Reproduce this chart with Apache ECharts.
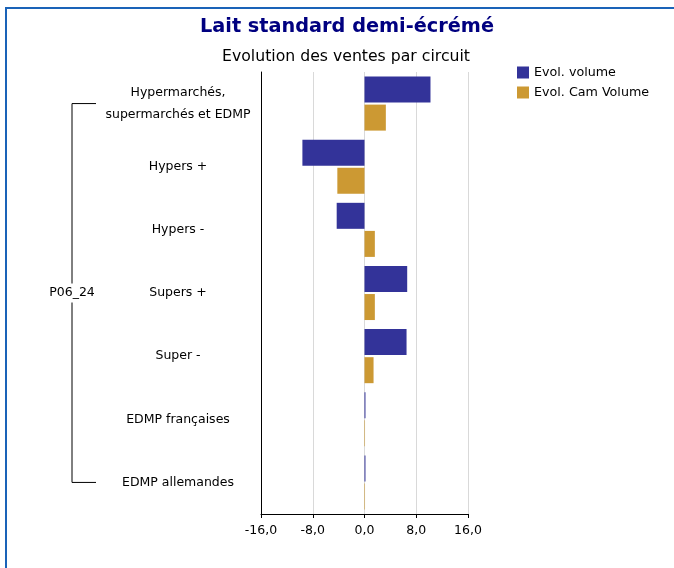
<!DOCTYPE html>
<html>
<head>
<meta charset="utf-8">
<script src="https://cdn.jsdelivr.net/npm/echarts@6/dist/echarts.min.js"></script>
<style>
html,body{margin:0;padding:0;background:#fff;}
#chart{width:674px;height:568px;}
</style>
</head>
<body>
<div id="chart"></div>
<script>
const categories = ["Hypermarchés,\nsupermarchés et EDMP", "Hypers +", "Hypers -", "Supers +", "Super -", "EDMP françaises", "EDMP allemandes"];
const evolVolume = [10.2, -9.6, -4.3, 6.6, 6.5, 0.15, 0.15];
const evolCamVolume = [3.3, -4.2, 1.6, 1.6, 1.4, 0.08, 0.08];
const seriesNames = ["Evol. volume", "Evol. Cam Volume"];
const groupLabel = "P06_24";
const titleText = "Lait standard demi-écrémé";
const subtitleText = "Evolution des ventes par circuit";

const FONT = "'DejaVu Sans', Tahoma, sans-serif";
const chart = echarts.init(document.getElementById('chart'));
chart.setOption({
  animation: false,
  textStyle: { fontFamily: FONT },
  title: [
    { text: titleText, left: 342, textAlign: 'center', top: 12,
      textStyle: { fontFamily: FONT, fontSize: 19.3, fontWeight: 'bold', color: '#000080' } },
    { text: subtitleText, left: 341, textAlign: 'center', top: 44,
      textStyle: { fontFamily: FONT, fontSize: 15.7, fontWeight: 'normal', color: '#000' } }
  ],
  legend: {
    orient: 'vertical', left: 517, top: 66, padding: 0,
    itemWidth: 12, itemHeight: 12, itemGap: 7,
    icon: 'rect',
    textStyle: { fontFamily: FONT, fontSize: 12.7, color: '#000' },
    data: seriesNames
  },
  grid: { left: 261, right: 206, top: 72, bottom: 54, containLabel: false },
  xAxis: {
    type: 'value', min: -16, max: 16, interval: 8,
    axisLine: { show: true, lineStyle: { color: '#000', width: 1 } },
    axisTick: { show: true, length: 4, lineStyle: { color: '#000' } },
    axisLabel: { fontFamily: FONT, fontSize: 12.5, color: '#000', margin: 10,
      formatter: v => v.toFixed(1).replace('.', ',') },
    splitLine: { show: true, lineStyle: { color: '#d9d9d9', width: 1 } }
  },
  yAxis: {
    type: 'category', inverse: true, data: categories,
    axisLine: { show: true, onZero: false, lineStyle: { color: '#000', width: 1 } },
    axisTick: { show: false },
    axisLabel: { fontFamily: FONT, fontSize: 12.5, color: '#000', align: 'center', margin: 83, lineHeight: 22 },
    splitLine: { show: false }
  },
  series: [
    { name: seriesNames[0], type: 'bar', data: evolVolume, barWidth: 26, barGap: '8%',
      itemStyle: { color: '#333399' } },
    { name: seriesNames[1], type: 'bar', data: evolCamVolume, barWidth: 26, barGap: '8%',
      itemStyle: { color: '#CC9933' } }
  ]
});

// bracket for the group label, positioned from the category scale
const yTop = chart.convertToPixel({ yAxisIndex: 0 }, categories[0]);
const yBot = chart.convertToPixel({ yAxisIndex: 0 }, categories[categories.length - 1]);
const bx = 72, bx2 = 96;
chart.setOption({
  graphic: [
    { type: 'polyline', shape: { points: [[bx2, yTop], [bx, yTop], [bx, yBot], [bx2, yBot]] },
      style: { stroke: '#000', lineWidth: 1, fill: null } },
    { type: 'text', x: bx, y: (yTop + yBot) / 2,
      style: { text: groupLabel, font: '12.5px ' + FONT, fill: '#000', align: 'center', verticalAlign: 'middle',
        backgroundColor: '#fff', padding: [3, 0] } },
    { type: 'line', shape: { x1: 5, y1: 8, x2: 674, y2: 8 }, style: { stroke: '#1a63b8', lineWidth: 2 } },
    { type: 'line', shape: { x1: 6, y1: 8, x2: 6, y2: 568 }, style: { stroke: '#1a63b8', lineWidth: 2 } }
  ]
});
</script>
</body>
</html>
